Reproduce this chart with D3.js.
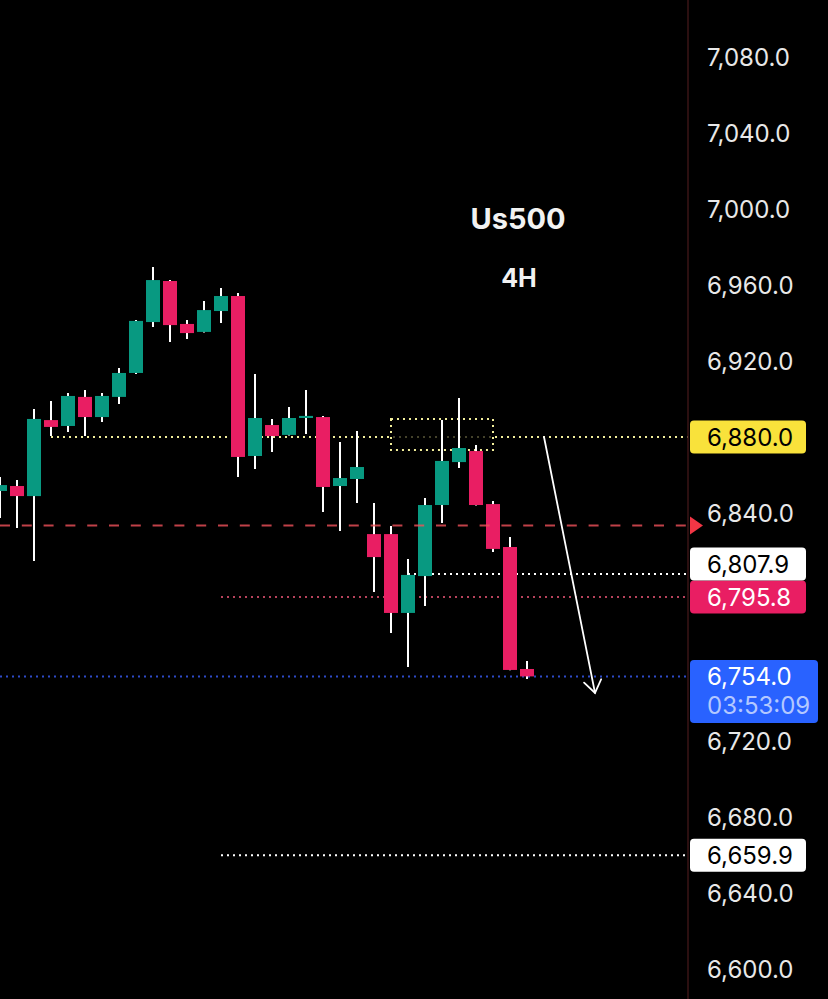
<!DOCTYPE html>
<html>
<head>
<meta charset="utf-8">
<script src="https://cdn.jsdelivr.net/npm/d3@7"></script>
<style>
  html, body { margin: 0; padding: 0; background: #000; }
  svg { display: block; }
</style>
</head>
<body>
<svg id="chart"></svg>
<script>
// 4H candles, oldest first
const opens  = [6851.6, 6854.2, 6848.9, 6888.9, 6885.8, 6901.1, 6890.5, 6901.1, 6913.7, 6940.5,
                6962.1, 6939.5, 6935.3, 6946.3, 6954.2, 6870.0, 6886.3, 6881.1, 6890.0, 6890.5,
                6854.2, 6857.9, 6828.9, 6828.9, 6787.4, 6806.8, 6844.2, 6866.8, 6872.6, 6844.7,
                6822.1, 6757.9];
const highs  = [6858.9, 6857.4, 6894.7, 6898.9, 6903.2, 6904.7, 6903.2, 6916.3, 6941.6, 6969.5,
                6962.6, 6941.6, 6951.6, 6958.4, 6955.8, 6913.2, 6889.5, 6895.8, 6904.7, 6891.1,
                6877.4, 6883.2, 6845.3, 6833.2, 6815.8, 6847.9, 6888.9, 6900.5, 6875.8, 6846.3,
                6827.4, 6762.1];
const lows   = [6837.4, 6832.1, 6814.7, 6880.5, 6882.6, 6880.5, 6887.9, 6897.4, 6913.2, 6937.9,
                6930.0, 6931.6, 6935.0, 6940.0, 6858.9, 6863.2, 6872.1, 6880.8, 6881.6, 6840.5,
                6830.5, 6845.3, 6798.4, 6776.8, 6758.9, 6791.1, 6834.7, 6863.7, 6844.0, 6819.5,
                6757.2, 6752.6];
const closes = [6854.7, 6848.9, 6889.5, 6885.3, 6901.6, 6890.5, 6901.6, 6913.7, 6941.1, 6962.6,
                6938.9, 6934.7, 6946.8, 6954.2, 6869.5, 6890.0, 6880.5, 6890.0, 6891.1, 6853.7,
                6858.4, 6864.2, 6816.8, 6787.4, 6807.4, 6844.2, 6867.4, 6874.2, 6844.2, 6821.1,
                6757.4, 6754.0];

const priceTicks = [6600, 6640, 6680, 6720, 6760, 6800, 6840, 6880, 6920, 6960, 7000, 7040, 7080];

// horizontal levels drawn on the chart
const levelNames  = ["resistance", "lastClose", "support1", "support2", "current", "target"];
const levelPrices = [6880.0, 6833.4, 6807.9, 6795.8, 6754.0, 6659.9];
const levelFrom   = [3, 0, 24, 13, 0, 13];   // bar index where each level starts

// zone box and projected move
const zoneBars   = [23, 29];
const zonePrices = [6889.5, 6873.2];
const arrowBars   = [32, 35];
const arrowPrices = [6880.0, 6745.3];

const countdown = "03:53:09";
const symbol = "Us500";
const timeframe = "4H";

const W = 828, H = 999;
const axisX = 688;
const green = "#089981", red = "#e91e63";
const font = "Inter, 'Liberation Sans', sans-serif";

const styles = {
  resistance: { stroke: "#f2ee9a", dash: "2,4", width: 2, label: { fill: "#f9e23b", text: "#000" } },
  lastClose:  { stroke: "#f0525a", dash: "10,11.8", width: 2, opacity: 0.8 },
  support1:   { stroke: "#ffffff", dash: "2,4", width: 2, label: { fill: "#ffffff", text: "#000" } },
  support2:   { stroke: "#b8435c", dash: "2,4", width: 2, label: { fill: "#e91e63", text: "#fff" } },
  current:    { stroke: "#2e4bc8", dash: "2,4", width: 2, label: { fill: "#2962ff", text: "#fff", tall: true } },
  target:     { stroke: "#ffffff", dash: "2,4", width: 2, label: { fill: "#ffffff", text: "#000" } }
};

const svg = d3.select("#chart").attr("width", W).attr("height", H);
svg.append("rect").attr("width", W).attr("height", H).attr("fill", "#000");

const x = d3.scaleLinear().domain([0, 40]).range([0, 680]);
const y = d3.scaleLinear().domain([6600, 7080]).range([969, 57]);

const bars = opens.map((o, i) => ({ i, o, h: highs[i], l: lows[i], c: closes[i] }));
const levels = levelPrices.map((p, k) => ({ p, from: levelFrom[k], s: styles[levelNames[k]] }));

const plot = svg.append("g");

// levels behind the candles
plot.append("g")
  .selectAll("line")
  .data(levels.filter(d => d.s !== styles.lastClose))
  .join("line")
  .attr("x1", d => x(d.from))
  .attr("x2", axisX)
  .attr("y1", d => y(d.p))
  .attr("y2", d => y(d.p))
  .attr("stroke", d => d.s.stroke)
  .attr("stroke-width", d => d.s.width)
  .attr("stroke-dasharray", d => d.s.dash);

// zone box
plot.append("rect")
  .attr("x", x(zoneBars[0]))
  .attr("y", y(zonePrices[0]))
  .attr("width", x(zoneBars[1]) - x(zoneBars[0]))
  .attr("height", y(zonePrices[1]) - y(zonePrices[0]))
  .attr("fill", "rgba(0,0,0,0.72)")
  .attr("stroke", "#f2ee9a")
  .attr("stroke-width", 2)
  .attr("stroke-dasharray", "2,4");

// candles
plot.append("g")
  .selectAll("line")
  .data(bars)
  .join("line")
  .attr("x1", d => x(d.i))
  .attr("x2", d => x(d.i))
  .attr("y1", d => y(d.h))
  .attr("y2", d => y(d.l))
  .attr("stroke", "#fff")
  .attr("stroke-width", 2);

plot.append("g")
  .selectAll("rect")
  .data(bars)
  .join("rect")
  .attr("x", d => x(d.i) - 7)
  .attr("width", 14)
  .attr("y", d => y(Math.max(d.o, d.c)))
  .attr("height", d => Math.max(2, Math.abs(y(d.o) - y(d.c))))
  .attr("fill", d => d.c >= d.o ? green : red);

// last-close dashed line sits above the candles
const lc = levels.find(d => d.s === styles.lastClose);
plot.append("line")
  .attr("x1", x(lc.from)).attr("x2", axisX)
  .attr("y1", y(lc.p)).attr("y2", y(lc.p))
  .attr("stroke", lc.s.stroke)
  .attr("stroke-width", lc.s.width)
  .attr("stroke-dasharray", lc.s.dash)
  .attr("opacity", lc.s.opacity);

// projected move arrow
const ax1 = x(arrowBars[0]), ay1 = y(arrowPrices[0]);
const ax2 = x(arrowBars[1]), ay2 = y(arrowPrices[1]);
const ang = Math.atan2(ay2 - ay1, ax2 - ax1);
const head = 15, spread = 0.62;
const arrow = plot.append("g").attr("stroke", "#fff").attr("stroke-width", 1.8)
  .attr("fill", "none").attr("stroke-linecap", "round");
arrow.append("line").attr("x1", ax1).attr("y1", ay1).attr("x2", ax2).attr("y2", ay2);
arrow.append("path").attr("d", d3.line()([
  [ax2 - head * Math.cos(ang - spread), ay2 - head * Math.sin(ang - spread)],
  [ax2, ay2],
  [ax2 - head * Math.cos(ang + spread), ay2 - head * Math.sin(ang + spread)]
]));

// title
svg.append("text")
  .attr("x", 518).attr("y", 229)
  .attr("text-anchor", "middle")
  .attr("fill", "#f2f2f2")
  .attr("font-family", font)
  .attr("font-weight", 700)
  .attr("font-size", 29)
  .text(symbol);
svg.append("text")
  .attr("x", 519).attr("y", 287)
  .attr("text-anchor", "middle")
  .attr("fill", "#f2f2f2")
  .attr("font-family", font)
  .attr("font-weight", 700)
  .attr("font-size", 25)
  .text(timeframe);

// price labels, pushed apart so they don't overlap
const boxH = 33;
const tags = levels.filter(d => d.s.label).map(d => ({ ...d, cy: y(d.p) }));
tags.sort((a, b) => b.cy - a.cy);
for (let k = 1; k < tags.length; k++) {
  const below = tags[k - 1];
  if (below.cy - tags[k].cy < boxH) tags[k].cy = below.cy - boxH;
}
tags.forEach(d => {
  d.top = d.cy - boxH / 2;
  d.bottom = d.top + (d.s.label.tall ? 63 : boxH);
});

// price axis (ticks hidden where a price tag covers them)
svg.append("line")
  .attr("x1", axisX).attr("x2", axisX)
  .attr("y1", 0).attr("y2", H)
  .attr("stroke", "#3a1416")
  .attr("stroke-width", 1.5);

const fmt = d3.format(",.1f");
const shownTicks = priceTicks.filter(t =>
  !tags.some(d => y(t) + 10 > d.top && y(t) - 10 < d.bottom));
const axis = svg.append("g")
  .attr("transform", `translate(${axisX},0)`)
  .call(d3.axisRight(y).tickValues(shownTicks).tickSize(0).tickPadding(19).tickFormat(fmt));
axis.select(".domain").remove();
axis.selectAll("text")
  .attr("fill", "#e8e8e8")
  .attr("font-family", font)
  .attr("font-size", 24)
  .attr("dy", "0.36em");

// last-close marker
svg.append("path")
  .attr("d", d3.line()([[axisX + 2, y(lc.p) - 9], [axisX + 15, y(lc.p)], [axisX + 2, y(lc.p) + 9]]))
  .attr("fill", "#f23645");

const tagG = svg.append("g").selectAll("g").data(tags).join("g")
  .attr("transform", d => `translate(${axisX + 2},${d.cy})`);
tagG.append("rect")
  .attr("x", 0)
  .attr("y", -boxH / 2)
  .attr("width", d => d.s.label.tall ? 128 : 116)
  .attr("height", d => d.bottom - d.top)
  .attr("rx", 4)
  .attr("fill", d => d.s.label.fill);
tagG.append("text")
  .attr("x", 17)
  .attr("dy", "0.36em")
  .attr("fill", d => d.s.label.text)
  .attr("font-family", font)
  .attr("font-size", 24)
  .text(d => fmt(d.p));
tagG.filter(d => d.s.label.tall).append("text")
  .attr("x", 17)
  .attr("y", 29)
  .attr("dy", "0.36em")
  .attr("fill", "#b3c8ff")
  .attr("font-family", font)
  .attr("font-size", 24)
  .text(countdown);
</script>
</body>
</html>
